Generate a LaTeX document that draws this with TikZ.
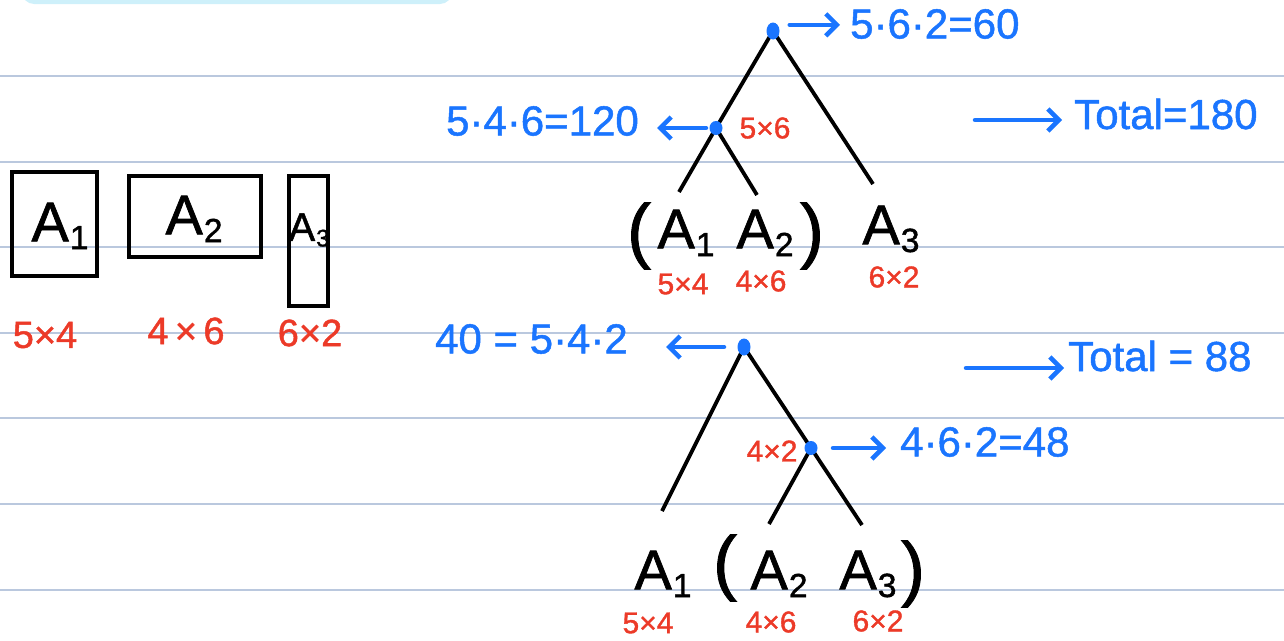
\documentclass[tikz,border=0pt]{standalone}
\usepackage{fontspec}
\setmainfont{Liberation Sans}[FakeBold=1.2]
\usepackage{xcolor}
\usetikzlibrary{shapes.geometric, arrows.meta, positioning, calc, backgrounds}

\definecolor{penblue}{RGB}{26,117,255}
\definecolor{penred}{RGB}{236,58,40}
\definecolor{ruleline}{RGB}{186,200,222}
\definecolor{highlight}{RGB}{206,240,250}

\newcommand{\mat}[2]{#1\kern1pt\raisebox{-0.14em}{\scalebox{0.6}{#2}}}

\begin{document}
\begin{tikzpicture}[
    x=1pt, y=-1pt,
    edge/.style={line width=3.8pt, black},
    matbox/.style={rectangle, draw=black, line width=4pt},
    dot/.style={ellipse, fill=penblue, inner sep=0pt, minimum width=13pt, minimum height=17pt},
    leaf/.style={inner sep=0pt, font=\fontsize{56}{56}\selectfont},
    paren/.style={inner sep=0pt, font=\fontsize{72}{72}\selectfont},
    dims/.style={inner sep=0pt, text=penred, font=\fontsize{30}{30}\selectfont},
    bigdims/.style={inner sep=0pt, text=penred, font=\fontsize{38}{38}\selectfont},
    cost/.style={inner sep=0pt, text=penblue, font=\fontsize{42}{42}\selectfont},
    barrow/.style={-{Straight Barb[length=11pt, width=22pt, line width=4.5pt]}, line width=4.5pt, penblue, line cap=round}
]
\useasboundingbox (0,0) rectangle (1284,640);

% ruled paper
\begin{pgfonlayer}{background}
\fill[highlight, rounded corners=12pt] (22,-30) rectangle (452,4);
\foreach \yy in {76,161.5,247,332.5,418,504,589.5}
  \draw[ruleline, line width=2pt] (0,\yy) -- (1284,\yy);
\end{pgfonlayer}

% the three matrices
\draw[matbox] (12,172) rectangle (97,276);
\draw[matbox] (129,176) rectangle (261,257);
\draw[matbox] (289,176) rectangle (328,306);
\node (a1) [leaf] at (60,226) {\mat{A}{1}};
\node (a2) [leaf] at (194,219) {\mat{A}{2}};
\node (a3) [leaf, font=\fontsize{40}{40}\selectfont] at (309,230) {\mat{A}{3}};
\node (d1) [bigdims] at (45,335) {5×4};
\node (d2) [bigdims] at (186,331) {4\,×\,6};
\node (d3) [bigdims] at (310,333) {6×2};

% (A1 A2) A3
\node (r1) [dot] at (773,31) {};
\node (m1) [dot, minimum height=14pt] at (716,128) {};
\coordinate (e1a) at (679,192);
\coordinate (e1b) at (757,195);
\coordinate (e1c) at (873,184);
\begin{pgfonlayer}{background}
\draw[edge] (r1.center) -- (m1.center) -- (e1a);
\draw[edge] (m1.center) -- (e1b);
\draw[edge] (r1.center) -- (e1c);
\end{pgfonlayer}

\node (p1) [paren] at (639,236) {(};
\node (t1a) [leaf] at (686,233) {\mat{A}{1}};
\node (t1b) [leaf] at (765,233) {\mat{A}{2}};
\node (p2) [paren] at (812,236) {)};
\node (t1c) [leaf] at (891,229) {\mat{A}{3}};
\node (s1a) [dims] at (683,284) {5×4};
\node (s1b) [dims] at (761,281) {4×6};
\node (s1c) [dims] at (894,277) {6×2};
\node (s1m) [dims] at (765,128) {5×6};

\node (c1) [cost, anchor=west] at (850,24) {5·6·2=60};
\node (c2) [cost, anchor=east] at (639,121) {5·4·6=120};
\draw[barrow, shorten <=12pt, shorten >=10pt] (r1.north east) -- (c1.west |- r1.north east);
\draw[barrow, shorten <=10pt, shorten >=18pt] (m1.center) -- (c2.east |- m1);
\coordinate (f1) at (975,120);
\node (tot1) [cost, anchor=west] at (1074,114) {Total=180};
\draw[barrow, shorten >=12pt] (f1) -- (tot1.west |- f1);

% A1 (A2 A3)
\node (r2) [dot] at (744,347) {};
\node (m2) [dot, minimum height=14pt] at (811,448) {};
\coordinate (e2a) at (662,511);
\coordinate (e2b) at (769,524);
\coordinate (e2c) at (862,525);
\begin{pgfonlayer}{background}
\draw[edge] (r2.center) -- (e2a);
\draw[edge] (r2.center) -- (m2.center) -- (e2c);
\draw[edge] (m2.center) -- (e2b);
\end{pgfonlayer}

\node (t2a) [leaf] at (663,574) {\mat{A}{1}};
\node (p3) [paren] at (725,568) {(};
\node (t2b) [leaf] at (779,574) {\mat{A}{2}};
\node (t2c) [leaf] at (868,574) {\mat{A}{3}};
\node (p4) [paren] at (913,574) {)};
\node (s2a) [dims] at (648,623) {5×4};
\node (s2b) [dims] at (771,622) {4×6};
\node (s2c) [dims] at (878,621) {6×2};
\node (s2m) [dims] at (772,451) {4×2};

\node (c3) [cost, anchor=east] at (628,339) {40 = 5·4·2};
\node (c4) [cost, anchor=west] at (900,442) {4·6·2=48};
\draw[barrow, shorten <=20pt, shorten >=38pt] (r2.center) -- (c3.east |- r2);
\draw[barrow, shorten <=22pt, shorten >=14pt] (m2.center) -- (c4.west |- m2);
\coordinate (f2) at (966,368);
\node (tot2) [cost, anchor=west] at (1068,356) {Total = 88};
\draw[barrow, shorten >=4pt] (f2) -- (tot2.west |- f2);

\end{tikzpicture}
\end{document}
